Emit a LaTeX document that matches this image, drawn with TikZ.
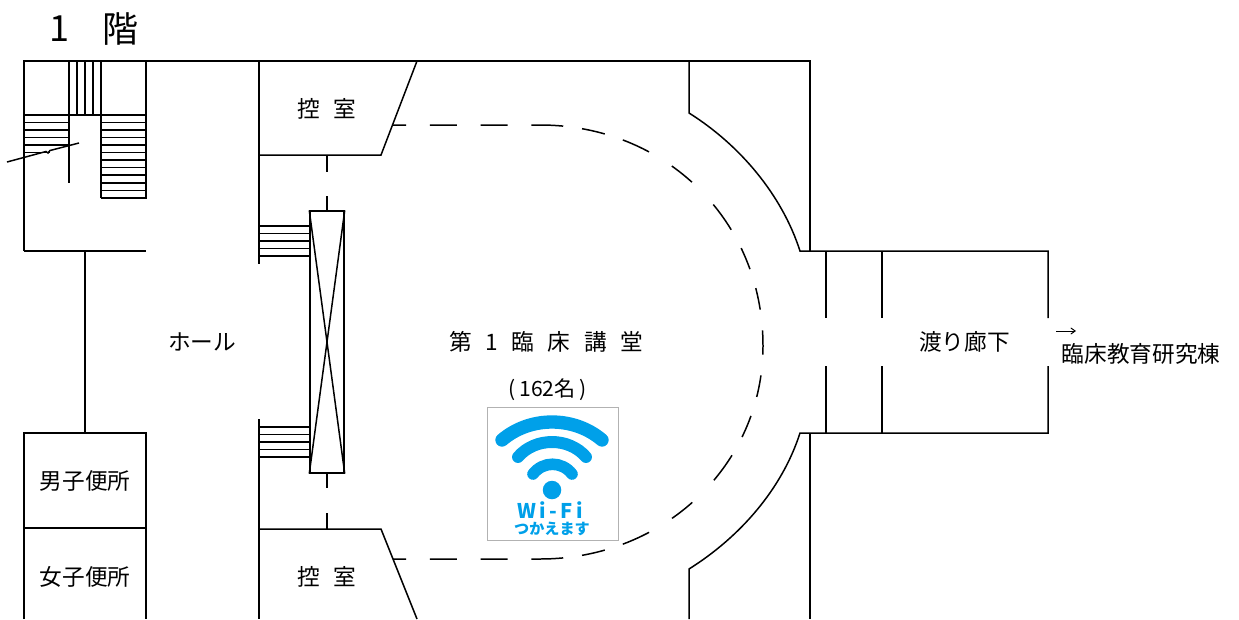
\documentclass[tikz,border=0pt]{standalone}
\usepackage{fontspec}
\setmainfont{Noto Sans CJK JP}
\usetikzlibrary{arrows.meta}
\definecolor{wifiblue}{RGB}{0,160,233}
\newcommand{\gp}{\hspace{0.6em}}
\tikzset{
	wall/.style={line width=0.85pt},
	tread/.style={line width=0.8pt},
	doorline/.style={line width=0.85pt, dash pattern=on 7.4pt off 13.6pt on 15.3pt off 13.6pt on 15.3pt off 13.6pt on 18.1pt off 10.8pt on 13.3pt off 10.8pt on 16.4pt off 15.3pt on 14.7pt off 17.6pt on 17.6pt off 11.9pt on 13pt off 11.3pt on 12.5pt off 11.9pt on 30pt off 0pt},
	wave/.style={wifiblue, line cap=round},
	lab/.style={inner sep=0pt, font=\fontsize{12.9}{15}\selectfont},
	bigl/.style={inner sep=0pt, font=\fontsize{20.5}{24}\selectfont},
}
\begin{document}
\begin{tikzpicture}[x=0.02cm, y=-0.02cm]
		\useasboundingbox (0,0) rectangle (1239,619);

		% floor title
		\node[bigl] (one) at (59,29) {1};
		\node[bigl] (floor) at (121,29) {階};

		% outer walls
		\draw[wall] (24,251) -- (24,61) -- (810,61) -- (810,251);
		\draw[wall] (24,251) -- (146,251);
		\draw[wall] (146,61) -- (146,199);
		\draw[wall] (85,251) -- (85,433);
		\draw[wall] (24,619) -- (24,433) -- (146,433) -- (146,619);
		\draw[wall] (24,528) -- (146,528);
		\draw[wall] (259,61) -- (259,264);
		\draw[wall] (259,419) -- (259,619);
		\draw[wall] (259,155) -- (381,155) -- (417,61);
		\draw[wall] (259,529) -- (381,529) -- (417,619);
		\draw[wall] (689,61) -- (689,113) .. controls (740,145) and (782,195) .. (800,251) -- (1048,251) -- (1048,318);
		\draw[wall] (689,619) -- (689,569) .. controls (740,537) and (782,489) .. (800,433) -- (1048,433) -- (1048,366);
		\draw[wall] (810,433) -- (810,619);
		\draw[wall] (826,251) -- (826,318);
		\draw[wall] (826,366) -- (826,433);
		\draw[wall] (882,251) -- (882,318);
		\draw[wall] (882,366) -- (882,433);

		% stairs
		\draw[tread] (69,61) -- (69,183);
		\draw[tread] (77,61) -- (77,115);
		\draw[tread] (85,61) -- (85,115);
		\draw[tread] (93,61) -- (93,115);
		\draw[tread] (101,61) -- (101,198);
		\draw[tread] (24,115) -- (146,115);
		\draw[tread] (24,122.5) -- (69,122.5) (101,122.5) -- (146,122.5);
		\draw[tread] (24,130) -- (69,130) (101,130) -- (146,130);
		\draw[tread] (24,137.5) -- (69,137.5) (101,137.5) -- (146,137.5);
		\draw[tread] (24,145) -- (69,145) (101,145) -- (146,145);
		\draw[tread] (24,152.5) -- (50,152.5) (101,152.5) -- (146,152.5);
		\draw[tread] (101,160) -- (146,160);
		\draw[tread] (101,167.5) -- (146,167.5);
		\draw[tread] (101,175) -- (146,175);
		\draw[tread] (101,183) -- (146,183);
		\draw[tread] (101,190.5) -- (146,190.5);
		\draw[tread] (101,198) -- (146,198);
		\draw[wall] (7,162) -- (46,151.5) -- (48,153) -- (50,150.5) -- (79,143);

		% lift and its steps
		\node[draw, line width=0.85pt, minimum width=0.68cm, minimum height=5.24cm, inner sep=0pt] (lift) at (327,342) {};
		\draw[wall] (lift.north west) -- (lift.south east);
		\draw[wall] (lift.north east) -- (lift.south west);
		\draw[tread] (259,226) -- (310,226);
		\draw[tread] (259,233.5) -- (310,233.5);
		\draw[tread] (259,241) -- (310,241);
		\draw[tread] (259,248.5) -- (310,248.5);
		\draw[tread] (259,256) -- (310,256);
		\draw[tread] (259,427) -- (310,427);
		\draw[tread] (259,434.5) -- (310,434.5);
		\draw[tread] (259,442) -- (310,442);
		\draw[tread] (259,449.5) -- (310,449.5);
		\draw[tread] (259,457) -- (310,457);
		\draw[tread] (327,155) -- (327,172);
		\draw[tread] (327,196) -- (lift.north);
		\draw[tread] (lift.south) -- (327,488);
		\draw[tread] (327,513) -- (327,529);

		% hall boundary
		\draw[doorline] (393,125) -- (540,125) .. controls (665,125) and (763,220) .. (763,346);
		\draw[doorline] (393,559) -- (540,559) .. controls (665,559) and (763,464) .. (763,346);

		% labels
		\node[lab] (upper) at (327,109) {控\gp 室};
		\node[lab] (lower) at (327,577) {控\gp 室};
		\node[lab] (hall) at (202,342) {ホール};
		\node[lab] (men) at (85,481) {男子便所};
		\node[lab] (women) at (85,577) {女子便所};
		\node[lab] (lecture) at (546,342) {第\gp 1\gp 臨\gp 床\gp 講\gp 堂};
		\node[lab, font=\fontsize{12}{14}\selectfont] (seats) at (547.5,390) {(\,162名\,)};
		\node[lab] (bridge) at (964.5,342) {渡り廊下};
		\node[lab] (annex) at (1141,354) {臨床教育研究棟};
		\coordinate (tostart) at (1056,331);
		\coordinate (toend) at (1076,331);
		\draw[line width=0.55pt, -{Straight Barb[length=2.5pt,width=3.5pt]}] (tostart) to (toend);

		% wifi sign
		\node[draw=black!30, line width=0.55pt, minimum width=2.62cm, minimum height=2.66cm, inner sep=0pt] (sign) at (552.5,473.5) {};
		\draw[wave, line width=7.6pt] (502,440) .. controls (530,416) and (574,416) .. (602,440);
		\draw[wave, line width=6.8pt] (518,457) .. controls (535,437) and (569,437) .. (586,457);
		\draw[wave, line width=6.6pt] (533,474) .. controls (543,461) and (562,461) .. (572,474);
		\node[circle, fill=wifiblue, minimum size=0.37cm, inner sep=0pt] (dot) at (552,490) {};
		\node[inner sep=0pt, text=wifiblue, font=\fontsize{11.5}{13}\selectfont\bfseries] (wifi) at (550,510) {W\,i\,-\,F\,i};
		\node[inner sep=0pt, text=wifiblue, font=\fontsize{8.6}{10}\selectfont\bfseries] (canuse) at (552,529) {つかえます};
	\end{tikzpicture}
\end{document}
